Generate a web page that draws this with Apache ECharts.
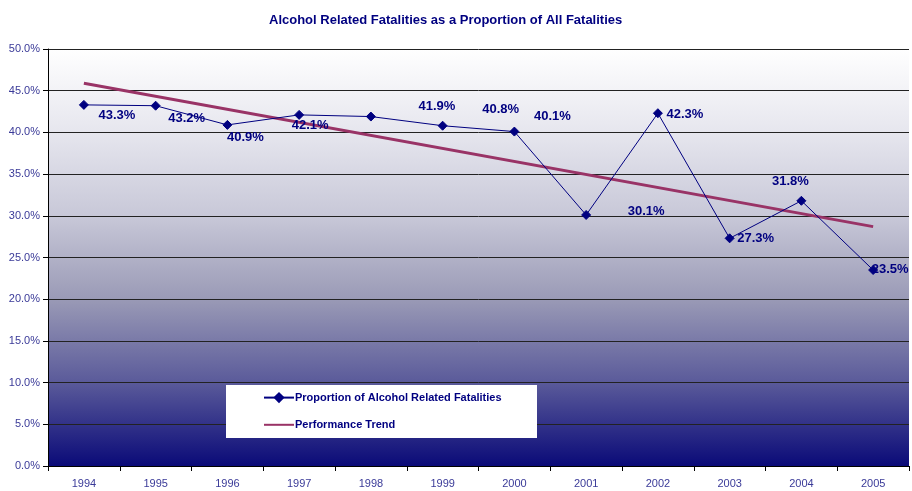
<!DOCTYPE html>
<html>
<head>
<meta charset="utf-8">
<script src="https://cdn.jsdelivr.net/npm/echarts@6/dist/echarts.min.js"></script>
<style>
  html, body { margin: 0; padding: 0; background: #fff; }
  #chart { width: 912px; height: 491px; }
</style>
</head>
<body>
<div id="chart"></div>
<script>
// 年份
const years = ['1994', '1995', '1996', '1997', '1998', '1999', '2000', '2001', '2002', '2003', '2004', '2005'];
// 酒精相关死亡比例 (%)
const proportion = [43.3, 43.2, 40.9, 42.1, 41.9, 40.8, 40.1, 30.1, 42.3, 27.3, 31.8, 23.5];
// 趋势线只读两端
const trend = [45.9, null, null, null, null, null, null, null, null, null, null, 28.7];
const yTicks = [0, 5, 10, 15, 20, 25, 30, 35, 40, 45, 50];

// 标签偏移 (Excel 的标签位置比较乱)
const labelOffsets = [
  [33, 11], [31, 13], [18, 13], [11, 11], [66, -10], [58, -16],
  [38, -15], [60, -4], [27, 1], [26, 0], [-11, -19], [17, -1],
];

const navy = '#000080';
const axisBlue = '#3a3a98';

const myChart = echarts.init(document.getElementById('chart'));
myChart.setOption({
  backgroundColor: '#fff',
  animation: false,
  title: {
    text: 'Alcohol Related Fatalities as a Proportion of All Fatalities',
    left: 264,
    top: 9,
    textStyle: {
      fontFamily: 'Liberation Sans Narrow, Liberation Sans, Arial',
      fontSize: 13,
      fontWeight: 'bold',
      color: navy,
    },
  },
  grid: {
    left: 48,
    right: 3,
    top: 49,
    bottom: 25,
    show: true,
    borderWidth: 0,
    backgroundColor: {
      type: 'linear', x: 0, y: 0, x2: 0, y2: 1,
      colorStops: [
        { offset: 0, color: '#ffffff' },
        { offset: 0.2, color: '#e6e6ee' },
        { offset: 0.4, color: '#c8c8d8' },
        { offset: 0.6, color: '#9a9ab6' },
        { offset: 0.8, color: '#5a5a9a' },
        { offset: 1, color: '#0a0a78' },
      ],
    },
  },
  graphic: [
    {
      type: 'rect',
      left: 226,
      top: 385,
      shape: { width: 311, height: 53 },
      style: { fill: '#ffffff' },
      z: 10,
    },
  ],
  legend: {
    orient: 'vertical',
    left: 258,
    top: 387,
    itemWidth: 30,
    itemHeight: 14,
    itemGap: 16,
    z: 11,
    textStyle: {
      fontFamily: 'Liberation Sans, Arial',
      fontSize: 11,
      fontWeight: 'bold',
      color: navy,
      padding: [0, 0, 0, -4],
    },
    data: [
      'Proportion of Alcohol Related Fatalities',
      { name: 'Performance Trend', itemStyle: { opacity: 0 } },
    ],
  },
  xAxis: {
    type: 'category',
    data: years,
    boundaryGap: true,
    axisLine: { lineStyle: { color: '#000', width: 1 } },
    axisTick: { show: true, alignWithLabel: false, length: 5, lineStyle: { color: '#000' } },
    axisLabel: {
      color: axisBlue,
      fontFamily: 'Liberation Sans, Arial',
      fontSize: 11,
      margin: 12,
    },
  },
  yAxis: {
    type: 'value',
    min: yTicks[0],
    max: yTicks[yTicks.length - 1],
    interval: 5,
    axisLine: { show: true, lineStyle: { color: '#000', width: 1 } },
    axisTick: { show: true, length: 5, lineStyle: { color: '#000' } },
    axisLabel: {
      color: axisBlue,
      fontFamily: 'Liberation Sans, Arial',
      fontSize: 11,
      margin: 8,
      formatter: v => `${v.toFixed(1)}%`,
    },
    splitLine: { show: true, lineStyle: { color: '#222', width: 1 } },
  },
  series: [
    {
      name: 'Proportion of Alcohol Related Fatalities',
      type: 'line',
      data: proportion.map((v, i) => ({
        value: v,
        label: { offset: labelOffsets[i] },
      })),
      symbol: 'diamond',
      symbolSize: 9,
      lineStyle: { color: navy, width: 1 },
      itemStyle: { color: navy, borderColor: navy },
      label: {
        show: true,
        position: 'inside',
        formatter: p => `${p.value.toFixed(1)}%`,
        fontFamily: 'Liberation Sans, Arial',
        fontSize: 13,
        fontWeight: 'bold',
        color: navy,
      },
      z: 3,
    },
    {
      name: 'Performance Trend',
      type: 'line',
      data: trend,
      connectNulls: true,
      symbol: 'none',
      lineStyle: { color: '#993366', width: 3 },
      itemStyle: { color: '#993366' },
      z: 2,
    },
  ],
});
</script>
</body>
</html>
